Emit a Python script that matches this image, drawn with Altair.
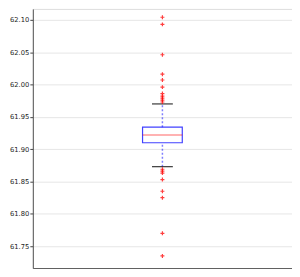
import altair as alt
import pandas as pd

category = ["A"]
q1 = [61.910]
median = [61.922]
q3 = [61.934]
whisker_low = [61.873]
whisker_high = [61.970]
outliers = [62.104, 62.093, 62.046, 62.016, 62.007, 61.996, 61.986, 61.982,
            61.979, 61.976, 61.973,
            61.869, 61.866, 61.863, 61.853, 61.835, 61.825, 61.770, 61.735]
y_ticks = [61.75, 61.80, 61.85, 61.90, 61.95, 62.00, 62.05, 62.10]
y_domain = [61.7162, 62.1169]

stats = pd.DataFrame({"cat": category, "q1": q1, "median": median, "q3": q3,
                      "lo": whisker_low, "hi": whisker_high})
out_df = pd.DataFrame({"cat": category * len(outliers), "v": outliers})

yscale = alt.Scale(domain=y_domain, nice=False, zero=False)
yaxis = alt.Axis(values=y_ticks, format=".2f", grid=True, gridColor="#e6e6e6",
                 labelFontSize=6.8, labelFont="DejaVu Sans", labelColor="#222",
                 tickColor="#444", tickSize=3,
                 domainColor="#555", title=None, labelPadding=1)
xaxis = alt.Axis(labels=False, title=None, tickColor="#888", tickSize=3,
                 domainColor="#555", grid=False)
x = alt.X("cat:N", axis=xaxis, scale=alt.Scale(paddingInner=0, paddingOuter=0))

base = alt.Chart(stats)

whisk = base.mark_rule(color="blue", strokeDash=[2, 2], strokeWidth=1.5, opacity=0.5).encode(
    x=x, y=alt.Y("lo:Q", scale=yscale, axis=yaxis), y2="q1:Q")
whisk2 = base.mark_rule(color="blue", strokeDash=[2, 2], strokeWidth=1.5, opacity=0.5).encode(
    x=x, y=alt.Y("q3:Q", scale=yscale, axis=yaxis), y2="hi:Q")
box = base.mark_bar(size=40, fill="white", fillOpacity=0, stroke="blue",
                    strokeOpacity=0.75, strokeWidth=1.2).encode(
    x=x, y=alt.Y("q1:Q", scale=yscale, axis=yaxis), y2="q3:Q")
med = base.mark_tick(size=40, thickness=1, color="red", opacity=0.6).encode(
    x=x, y=alt.Y("median:Q", scale=yscale, axis=yaxis))
cap_lo = base.mark_tick(size=21, thickness=1.2, color="#222", opacity=0.9).encode(
    x=x, y=alt.Y("lo:Q", scale=yscale, axis=yaxis))
cap_hi = base.mark_tick(size=21, thickness=1.2, color="#222", opacity=0.9).encode(
    x=x, y=alt.Y("hi:Q", scale=yscale, axis=yaxis))
pts = alt.Chart(out_df).mark_point(shape="M-1,0L1,0M0,-1L0,1", size=16, filled=False,
                                   stroke="red", strokeWidth=1.2, opacity=0.75).encode(
    x=x, y=alt.Y("v:Q", scale=yscale, axis=yaxis))

chart = alt.layer(whisk, whisk2, box, med, cap_lo, cap_hi, pts).properties(
    width=261, height=261,
    autosize=alt.AutoSizeParams(type="none"),
    padding={"left": 25, "top": 0, "right": 0, "bottom": 0},
).configure_view(stroke="#999", strokeWidth=1.5).configure(background="white")

chart.save("out.html", embed_options={"renderer": "svg", "actions": False})
